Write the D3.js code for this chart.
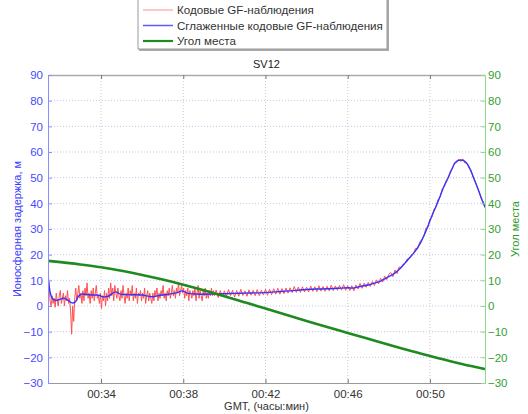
<!DOCTYPE html>
<html>
<head>
<meta charset="utf-8">
<script src="https://cdn.jsdelivr.net/npm/d3@7/dist/d3.min.js"></script>
<style>
    body { margin: 0; background: #fff; }
    svg { font-family: "Liberation Sans", Arial, sans-serif; }
</style>
</head>
<body>
<div id="chart"></div>
<script>
'use strict';

var legendLabels = ['Кодовые GF-наблюдения', 'Сглаженные кодовые GF-наблюдения', 'Угол места'];
var titleText = 'SV12';
var xLabel = 'GMT, (часы:мин)';
var leftLabel = 'Ионосферная задержка, м';
var rightLabel = 'Угол места';

var timeDomain = [31.42, 52.68];
var valueDomain = [-30, 90];
var timeTicks = [34, 38, 42, 46, 50];
var valueTicks = [-30, -20, -10, 0, 10, 20, 30, 40, 50, 60, 70, 80, 90];

// smoothed GF (blue)
var smoothTime = [31.42, 31.47, 31.55, 31.65, 31.8, 32.0, 32.2, 32.4, 32.6, 32.75, 32.9, 33.05,
    33.5, 33.9, 34.1, 34.35, 34.7, 34.95, 35.5, 36.0, 36.5, 36.9, 37.3, 37.7, 37.95, 38.2,
    38.6, 39.0, 39.5, 40, 40.5, 41, 41.5, 42, 42.5, 43, 43.5, 44, 44.5, 45, 45.5, 46, 46.3,
    46.6, 47, 47.3, 47.6, 47.9, 48.2, 48.5, 48.8, 49.0, 49.25, 49.5, 49.65, 49.85, 50.05,
    50.25, 50.46, 50.65, 50.87, 51.05, 51.2, 51.35, 51.5, 51.65, 51.85, 52.0, 52.17, 52.3,
    52.41, 52.55, 52.68];
var smoothDelay = [12, 8, 4.5, 2.8, 2.2, 2.6, 3.0, 2.2, 1.2, 1.6, 3.8, 4.6,
    4.3, 4.2, 3.6, 3.8, 5.5, 4.6, 4.4, 4.3, 3.6, 4.2, 4.6, 5.2, 5.9, 5.0,
    4.7, 4.6, 4.7, 4.8, 4.9, 5.0, 5.1, 5.2, 5.5, 5.8, 6.1, 6.4, 6.6, 6.7, 6.9, 7.1, 7.0,
    7.6, 8.2, 8.9, 9.7, 11.0, 12.3, 14.2, 16.8, 18.7, 21, 24, 26.4, 30, 34.2,
    38, 42, 46, 49.7, 53, 55.5, 56.6, 56.9, 56.6, 55, 52.5, 49, 46.5,
    44, 41, 38.5];

// elevation angle (green)
var elevTime = [31.42, 33, 34, 35, 36, 37, 38, 39, 40, 41, 42, 43, 44, 45, 46, 47, 48, 49, 50, 51, 52, 52.68];
var elevValue = [17.6, 16.2, 15.1, 13.7, 12.1, 10.3, 8.3, 6.1, 3.8, 1.4, -1.0, -3.4, -5.8, -8.2,
    -10.5, -12.8, -15.1, -17.3, -19.5, -21.5, -23.4, -24.6];

// raw GF (red), sampled every 0.05 min first, then every 0.1 min
var rawEarlyStart = 31.42, rawEarlyStep = 0.05;
var rawEarly = [13, 9, 2, 0, 4, 1, 3, -0.5, 5, 2,
    0, 4, 6, 1, 3, 5, 0, 4, 2, 6,
    1, 3, -2, -11, 0, -6, 3, 7, 2, 5,
    8, 3, 5, 1, 6, 2, 7, 4, 9, 3,
    5, 1, 6, 3, 7, 2, 5, 8, 3, 4,
    1, 5, -1, 4, 2, 6, 0, 5, 2, 7,
    3, 9, 4, 7, 2, 8, 5, 3, 7, 4,
    2, 6, 3, 8, 4, 1, 5, 3, 7, 2,
    6, 4, 8, 2, 5, 3, 7, 1, 5, 4,
    6, 2, 5, 3, 7, 1, 4, 6, 2, 5,
    3, 1, 5, 2, 6, 4, 7, 2, 5, 3,
    6, 4, 8, 3, 5, 2, 6, 4, 7, 3,
    5, 8, 4, 6, 3, 7, 5, 9, 4, 6,
    8, 5, 7, 3, 6, 4, 7, 2, 6, 5,
    3, 6, 4, 7, 2, 5, 8, 3, 6, 4,
    2, 6, 4, 7, 3, 5, 3, 6, 4, 7,
    4, 6, 4];
var rawLateStart = 39.6, rawLateStep = 0.1;
var rawLate = [6.2, 3.3, 6.0, 3.6, 5.9, 3.7, 6.4, 4.0, 6.1, 3.5,
    6.0, 3.8, 6.5, 4.1, 5.9, 3.8, 6.3, 4.2, 6.1, 4.0,
    6.4, 4.0, 6.1, 4.3, 6.5, 4.2, 6.5, 4.4, 6.7, 4.6,
    6.9, 4.6, 6.8, 4.8, 7.0, 5.0, 7.1, 5.2, 7.6, 5.3,
    7.4, 5.3, 7.5, 5.5, 7.3, 5.5, 7.8, 5.7, 7.5, 5.6,
    7.9, 5.8, 7.6, 5.7, 7.7, 5.9, 8.1, 6.0, 7.8, 6.1,
    8.0, 6.2, 8.3, 6.1, 7.9, 6.0, 7.9, 5.9, 8.2, 6.6,
    8.8, 6.9, 8.9, 7.3, 9.2, 7.6, 9.6, 8.0, 10.2, 8.6,
    10.8, 9.3, 11.6, 10.3, 12.4, 13.0, 11.4, 14.0, 12.6, 15.2,
    15.0, 16.3, 16.8, 18.3, 18.4, 19.9, 20.5, 22.5, 22.2, 24.8,
    25.8, 27.0, 30.3, 30.6, 33.9, 34.6, 37.7, 38.6, 41.6, 42.4,
    45.7, 46.5, 49.0, 49.9, 52.6, 53.7, 55.9, 55.8, 57.2, 56.3,
    57.3, 55.7, 55.8, 53.6, 53.0, 50.2, 48.8, 46.2, 44.3, 41.8,
    40.6, 38.2];

var width = 528, height = 414;
var plotLeft = 48, plotRight = 485, plotTop = 75, plotBottom = 383;

var blue = '#3535ff', green = '#1f8a1f';

var svg = d3.select('#chart').append('svg')
    .attr('width', width)
    .attr('height', height);

var x = d3.scaleLinear().domain(timeDomain).range([plotLeft, plotRight]);
var yLeft = d3.scaleLinear().domain(valueDomain).range([plotBottom, plotTop]);
var yRight = d3.scaleLinear().domain(valueDomain).range([plotBottom, plotTop]);

svg.append('defs').append('clipPath').attr('id', 'plotclip')
    .append('rect')
    .attr('x', plotLeft).attr('y', plotTop)
    .attr('width', plotRight - plotLeft).attr('height', plotBottom - plotTop);

// grid
svg.append('g').selectAll('line')
    .data(valueTicks.slice(1, -1))
    .enter().append('line')
    .attr('x1', plotLeft).attr('x2', plotRight)
    .attr('y1', function (d) { return yLeft(d); })
    .attr('y2', function (d) { return yLeft(d); })
    .attr('stroke', '#c4c4ec')
    .attr('stroke-dasharray', '1,2');

svg.append('g').selectAll('line')
    .data(timeTicks)
    .enter().append('line')
    .attr('x1', function (d) { return x(d); })
    .attr('x2', function (d) { return x(d); })
    .attr('y1', plotTop).attr('y2', plotBottom)
    .attr('stroke', '#cccccc')
    .attr('stroke-dasharray', '1,2');

// curves
var rawPoints = rawEarly.map(function (v, i) { return [rawEarlyStart + i * rawEarlyStep, v]; })
    .concat(rawLate.map(function (v, i) { return [rawLateStart + i * rawLateStep, v]; }));

var plot = svg.append('g').attr('clip-path', 'url(#plotclip)');

plot.append('path')
    .datum(rawPoints)
    .attr('fill', 'none')
    .attr('stroke', '#ff5050')
    .attr('stroke-width', 1)
    .attr('d', d3.line()
        .x(function (d) { return x(d[0]); })
        .y(function (d) { return yLeft(d[1]); }));

plot.append('path')
    .datum(d3.zip(smoothTime, smoothDelay))
    .attr('fill', 'none')
    .attr('stroke', blue)
    .attr('stroke-width', 1.4)
    .attr('d', d3.line()
        .curve(d3.curveCatmullRom)
        .x(function (d) { return x(d[0]); })
        .y(function (d) { return yLeft(d[1]); }));

plot.append('path')
    .datum(d3.zip(elevTime, elevValue))
    .attr('fill', 'none')
    .attr('stroke', green)
    .attr('stroke-width', 2.6)
    .attr('d', d3.line()
        .curve(d3.curveMonotoneX)
        .x(function (d) { return x(d[0]); })
        .y(function (d) { return yRight(d[1]); }));

// axes
var fmt = function (d) { return '00:' + d; };

var xAxis = svg.append('g')
    .attr('transform', 'translate(0,' + plotBottom + ')')
    .call(d3.axisBottom(x).tickValues(timeTicks).tickFormat(fmt).tickSizeInner(-4).tickSizeOuter(0).tickPadding(7));
xAxis.select('.domain').attr('stroke', '#999');
xAxis.selectAll('.tick line').attr('stroke', '#777');
xAxis.selectAll('text').attr('fill', '#333').style('font-size', '11.5px');

var topAxis = svg.append('g')
    .attr('transform', 'translate(0,' + plotTop + ')')
    .call(d3.axisTop(x).tickValues(timeTicks).tickFormat('').tickSizeInner(-4).tickSizeOuter(0));
topAxis.select('.domain').attr('stroke', '#aaa').attr('stroke-width', 1.6);
topAxis.selectAll('.tick line').attr('stroke', '#777');

var leftAxis = svg.append('g')
    .attr('transform', 'translate(' + plotLeft + ',0)')
    .call(d3.axisLeft(yLeft).tickValues(valueTicks).tickSizeInner(-4).tickSizeOuter(0).tickPadding(5));
leftAxis.select('.domain').attr('stroke', '#8c8cff');
leftAxis.selectAll('.tick line').attr('stroke', '#8c8cff');
leftAxis.selectAll('text').attr('fill', '#4a4aff').style('font-size', '11.5px');

var rightAxis = svg.append('g')
    .attr('transform', 'translate(' + plotRight + ',0)')
    .call(d3.axisRight(yRight).tickValues(valueTicks).tickSizeInner(-4).tickSizeOuter(0).tickPadding(3));
rightAxis.select('.domain').attr('stroke', '#8fd88f');
rightAxis.selectAll('.tick line').attr('stroke', '#8fd88f');
rightAxis.selectAll('text').attr('fill', '#34a034').style('font-size', '11.5px');

// labels
svg.append('text')
    .attr('x', (plotLeft + plotRight) / 2).attr('y', 68)
    .attr('text-anchor', 'middle')
    .style('font-size', '11px')
    .attr('fill', '#222')
    .text(titleText);

svg.append('text')
    .attr('x', (plotLeft + plotRight) / 2).attr('y', 410)
    .attr('text-anchor', 'middle')
    .style('font-size', '11px')
    .attr('fill', '#333')
    .text(xLabel);

svg.append('text')
    .attr('transform', 'translate(21,' + (plotTop + plotBottom) / 2 + ') rotate(-90)')
    .attr('text-anchor', 'middle')
    .style('font-size', '11px')
    .attr('fill', '#3a3aff')
    .text(leftLabel);

svg.append('text')
    .attr('transform', 'translate(519,' + (plotTop + plotBottom) / 2 + ') rotate(-90)')
    .attr('text-anchor', 'middle')
    .style('font-size', '11px')
    .attr('fill', '#2e9a2e')
    .text(rightLabel);

// legend
var legend = svg.append('g');
legend.append('rect')
    .attr('x', 139).attr('y', -6)
    .attr('width', 250).attr('height', 57)
    .attr('fill', '#aaa');
legend.append('rect')
    .attr('x', 138).attr('y', -7)
    .attr('width', 249).attr('height', 56)
    .attr('fill', '#fff')
    .attr('stroke', '#999');

var legendColors = ['#ffb4b4', '#5a5aff', green];
var legendWidths = [1.5, 1.5, 2.2];
var rows = legend.selectAll('.row')
    .data(legendLabels)
    .enter().append('g')
    .attr('class', 'row')
    .attr('transform', function (d, i) { return 'translate(0,' + (10 + i * 15.5) + ')'; });

rows.append('line')
    .attr('x1', 143).attr('x2', 173)
    .attr('stroke', function (d, i) { return legendColors[i]; })
    .attr('stroke-width', function (d, i) { return legendWidths[i]; });

rows.append('text')
    .attr('x', 177).attr('dy', '0.35em')
    .style('font-size', '11.6px')
    .attr('fill', '#333')
    .text(function (d) { return d; });
</script>
</body>
</html>
